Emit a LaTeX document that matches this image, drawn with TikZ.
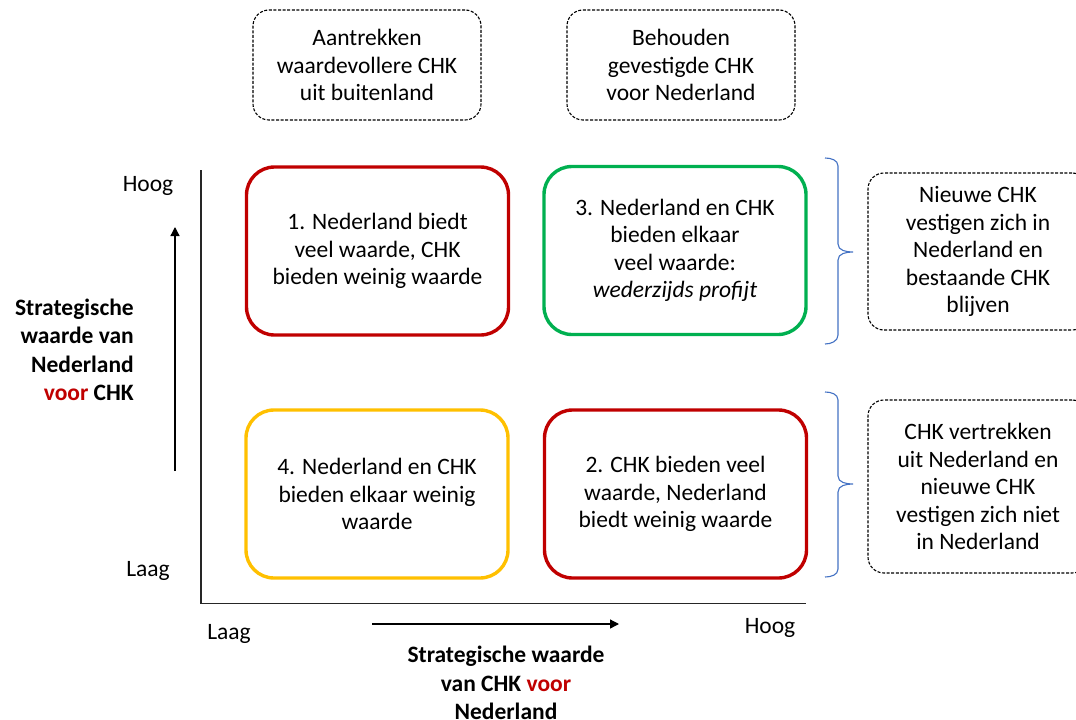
\documentclass[tikz,border=0pt]{standalone}
\usepackage{fontspec}
\setmainfont{Carlito}
\usetikzlibrary{arrows.meta}
\definecolor{cred}{RGB}{192,0,0}
\definecolor{cgreen}{RGB}{0,176,80}
\definecolor{cyellow}{RGB}{255,192,0}
\definecolor{cblue}{RGB}{68,114,196}
\definecolor{axisgray}{RGB}{38,38,38}
\tikzset{
  txt/.style={font={\fontsize{23.5}{27.5}\selectfont}, align=center, inner sep=0pt},
  quad/.style={draw=#1, line width=3.4pt, rounded corners=28pt, minimum width=262pt, minimum height=168pt, txt},
  note/.style={draw=black, line width=1.1pt, dash pattern=on 3pt off 1.6pt, rounded corners=16pt, txt},
  axisline/.style={draw=axisgray, line width=1.4pt},
  dirarrow/.style={draw=black, line width=1.3pt, -{Triangle[length=9pt,width=9pt]}},
  bracket/.style={draw=cblue, line width=1.1pt},
  axislabel/.style={font={\fontsize{23.5}{28.5}\selectfont\bfseries}, inner sep=0pt}
}
\begin{document}
\begin{tikzpicture}[x=1pt,y=-1pt]
\clip (0,0) rectangle (1076,720);
\fill[white] (0,0) rectangle (1076,720);

% strategy notes above the columns
\node[note, minimum width=228pt, minimum height=110pt] (n1) at (367,65)
  {Aantrekken\\waardevollere CHK\\uit buitenland};
\node[note, minimum width=228pt, minimum height=110pt] (n2) at (681,65)
  {Behouden\\gevestigde CHK\\voor Nederland};

% outcome notes right of the rows
\node[note, minimum width=220pt, minimum height=157pt] (n3) at (978,251.5)
  {Nieuwe CHK\\vestigen zich in\\Nederland en\\bestaande CHK\\blijven};
\node[note, minimum width=220pt, minimum height=173pt] (n4) at (978,486.5)
  {CHK vertrekken\\uit Nederland en\\nieuwe CHK\\vestigen zich niet\\in Nederland};

% the four quadrants
\node[quad=cred] (q1) at (377.5,251)
  {1. Nederland biedt\\veel waarde, CHK\\bieden weinig waarde};
\node[quad=cgreen] (q3) at (675,250.5)
  {3. Nederland en CHK\\bieden elkaar\\veel waarde:\\\textit{wederzijds profijt}};
\node[quad=cyellow] (q4) at (377,494)
  {4. Nederland en CHK\\bieden elkaar weinig\\waarde};
\node[quad=cred] (q2) at (675.5,494)
  {2. CHK bieden veel\\waarde, Nederland\\biedt weinig waarde};

% axes
\coordinate (ytop) at (201,170);
\coordinate (origin) at (201,603.5);
\coordinate (xend) at (806,603.5);
\draw[axisline] (ytop) -- (origin) -- (xend);

% direction arrows
\coordinate (ya) at (175,471);
\coordinate (yb) at (175,227);
\draw[dirarrow] (ya) -- (yb);
\coordinate (xa) at (372,624);
\coordinate (xb) at (619,624);
\draw[dirarrow] (xa) -- (xb);

% axis end labels
\node[txt] (yhigh) at (148,186) {Hoog};
\node[txt] (ylow) at (148,571) {Laag};
\node[txt] (xlow) at (229,634) {Laag};
\node[txt] (xhigh) at (770,628) {Hoog};

% axis titles
\node[axislabel, align=right, anchor=east] (ytitle) at (134,350)
  {Strategische\\waarde van\\Nederland\\\textcolor{cred}{voor} CHK};
\node[axislabel, align=center] (xtitle) at (506,683)
  {Strategische waarde\\van CHK \textcolor{cred}{voor}\\Nederland};

% brackets grouping the rows
\draw[bracket] (825,158) to[out=0,in=90] (838,166) -- (838,244)
  to[out=-90,in=180] (853,252) to[out=180,in=90] (838,260) -- (838,335)
  to[out=-90,in=0] (825,344);
\draw[bracket] (825,392) to[out=0,in=90] (838,400) -- (838,476)
  to[out=-90,in=180] (853,484) to[out=180,in=90] (838,492) -- (838,569)
  to[out=-90,in=0] (825,577);
\end{tikzpicture}
\end{document}
